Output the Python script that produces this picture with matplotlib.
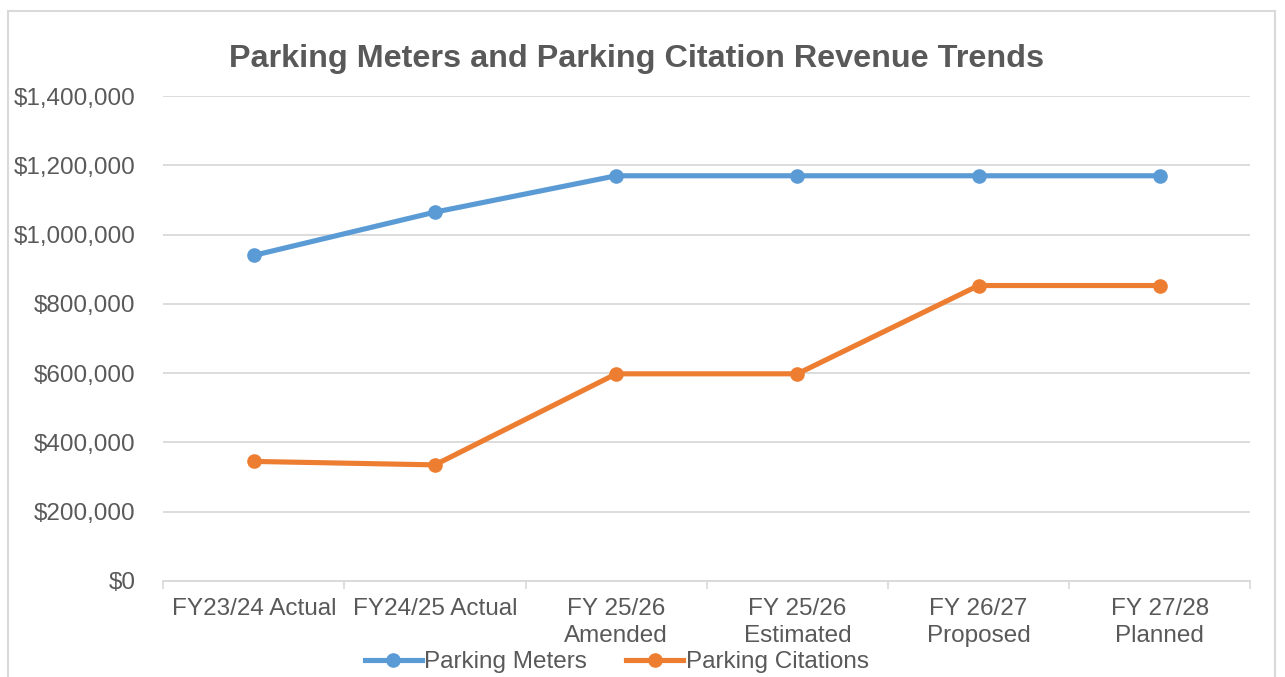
import matplotlib.pyplot as plt
from matplotlib.patches import Rectangle
from matplotlib.ticker import FuncFormatter

# Data
years = ['FY23/24 Actual', 'FY24/25 Actual', 'FY 25/26\nAmended', 'FY 25/26\nEstimated',
         'FY 26/27\nProposed', 'FY 27/28\nPlanned']
meters = [940000, 1065000, 1170000, 1170000, 1170000, 1170000]
citations = [345000, 335000, 598000, 598000, 853000, 853000]

plt.rcParams['font.family'] = ['Liberation Sans', 'DejaVu Sans']
grey = '#595959'

fig = plt.figure(figsize=(12.85, 6.77), dpi=100)
ax = fig.add_axes([0.127, 0.142, 0.846, 0.716])

x = range(len(years))
ax.plot(x, meters, marker='o', color='#5B9BD5', lw=3.7, markersize=9.5, label='Parking Meters')
ax.plot(x, citations, marker='o', color='#ED7D31', lw=3.7, markersize=9.5, label='Parking Citations')

ax.set_xlim(-0.5, len(years) - 0.5)
ax.set_ylim(0, 1400000)
ax.set_yticks(range(0, 1400001, 200000))
ax.yaxis.set_major_formatter(FuncFormatter(lambda v, p: '${:,.0f}'.format(v)))
ax.set_xticks(list(x))
ax.set_xticklabels(years, linespacing=1.3)
ax.set_xticks([i - 0.5 for i in range(len(years) + 1)], minor=True)
ax.tick_params(axis='x', which='major', length=0, pad=12, labelsize=17.5, labelcolor=grey)
ax.tick_params(axis='x', which='minor', length=6, color='#D9D9D9', width=1.2)
ax.tick_params(axis='y', length=0, pad=20, labelsize=17.5, labelcolor=grey)

ax.grid(axis='y', color='#D9D9D9', lw=1.3)
ax.set_axisbelow(True)
for s in ['top', 'right', 'left']:
    ax.spines[s].set_visible(False)
ax.spines['bottom'].set_color('#D9D9D9')
ax.spines['bottom'].set_linewidth(1.3)

fig.text(0.495, 0.913, 'Parking Meters and Parking Citation Revenue Trends',
         ha='center', va='center', fontsize=23.3, fontweight='bold', color=grey)

fig.legend(loc='center', bbox_to_anchor=(0.48, 0.022), ncol=2, frameon=False,
           fontsize=17.5, handlelength=2.35, columnspacing=1.6, handletextpad=0.1,
           labelcolor=grey)

# outer chart border
fig.patches.append(Rectangle((8 / 1285, -0.05), 1267 / 1285, 1.05 - 11 / 677,
                             transform=fig.transFigure, fill=False,
                             edgecolor='#D9D9D9', lw=1.5))

fig.savefig('out.png', dpi=100)
